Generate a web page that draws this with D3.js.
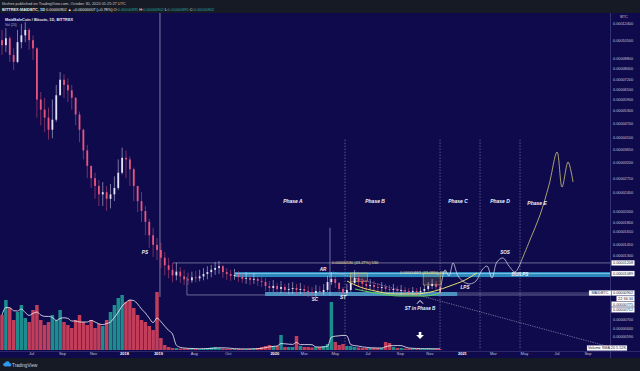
<!DOCTYPE html>
<html>
<head>
<meta charset="utf-8">
<script src="https://cdn.jsdelivr.net/npm/d3@7"></script>
<style>
html, body { margin: 0; padding: 0; background: #161a25; }
svg { display: block; font-family: "Liberation Sans", Arial, sans-serif; }
</style>
</head>
<body>
<div id="main"></div>
<script>
const ctx = {
    w: 640,
    h: 371,
    paneT: 13,
    paneR: 610,
    paneB: 351,
    footT: 358,
    volBase: 350,
    STEP: 0.25
};

// x axis in "month units" of the (gap-compressed) TradingView bar axis
const xTickLabels = ["Jul", "Sep", "Nov", "2018", "2019", "Aug", "Oct", "2020", "Mar", "May", "Jul", "Sep", "Nov", "2021", "Mar", "May", "Jul", "Sep"];
const xTickValues = [2, 4, 6, 8, 10.2, 12.5, 14.7, 17.7, 19.6, 21.6, 23.7, 25.8, 27.7, 29.8, 31.8, 33.8, 35.9, 37.9];
const yearLabels = ["2018", "2019", "2020", "2021"];

// price axis ticks, in satoshi (1e-8 BTC)
const yTickValues = [12400, 10500, 8800, 8000, 7200, 6500, 5900, 5300, 4700, 4100, 3650, 3200, 2750, 2400, 2000, 1800, 1650, 1450, 1300, 700, 640, 590];

// daily candles aggregated, prices in satoshi
const firstOpen = 10500;
const closes = [10000, 10700, 9100, 8500, 10300, 11000, 11600, 10500, 9700, 5900,
    5350, 4950, 4400, 4850, 6150, 7150, 6800, 6450, 6000, 5100,
    4400, 3600, 3100, 2750, 2550, 2350, 2400, 2250, 2350, 2500,
    2900, 3350, 3300, 3000, 2550, 2200, 2000, 1800, 1580, 1440,
    1370, 1270, 1180, 1130, 1070, 1110, 1060, 1030, 1020, 1050,
    1040, 1060, 1085, 1105, 1130, 1150, 1170, 1105, 1085, 1065,
    1075, 1055, 1035, 1045, 1025, 1035, 1015, 1005, 965, 947,
    966, 938, 956, 929, 938, 947, 929, 938, 920, 911,
    902, 920, 911, 929, 1003, 1033, 994, 938, 902, 929,
    994, 1043, 1013, 985, 966, 975, 956, 947, 956, 938,
    929, 938, 920, 929, 920, 911, 920, 911, 920, 938,
    966, 985, 956, 902];
const highs = [11600, 11800, 10900, 9700, 11600, 12300, 12500, 11800, 11000, 9800,
    6350, 6000, 5450, 5900, 6800, 7700, 7550, 7250, 6800, 6050,
    5250, 4450, 3800, 3100, 2900, 2700, 2650, 2550, 2600, 2800,
    3300, 3700, 3600, 3400, 3050, 2550, 2400, 2100, 1850, 1700,
    1540, 1470, 1340, 1270, 1210, 1210, 1160, 1130, 1100, 1110,
    1120, 1130, 1150, 1170, 1185, 1220, 1230, 1185, 1150, 1130,
    1140, 1115, 1095, 1105, 1085, 1095, 1075, 1065, 1045, 1013,
    1023, 994, 1013, 985, 994, 1003, 985, 994, 975, 966,
    956, 975, 966, 985, 1064, 1106, 1074, 1003, 956, 985,
    1053, 1128, 1085, 1043, 1023, 1033, 1013, 994, 1003, 985,
    975, 985, 966, 975, 956, 947, 956, 947, 956, 975,
    1003, 1033, 1013, 975];
const lows = [9100, 9350, 8500, 7850, 8400, 9700, 10300, 9550, 8650, 4950,
    4600, 4300, 4000, 4050, 4750, 6150, 6000, 5750, 5350, 4600,
    3900, 3300, 2750, 2500, 2250, 2100, 2100, 2000, 2050, 2200,
    2450, 2850, 2750, 2550, 2200, 1980, 1800, 1580, 1400, 1280,
    1240, 1150, 1070, 1040, 1000, 1020, 995, 975, 975, 995,
    1000, 1010, 1020, 1030, 1050, 1075, 1085, 1045, 1025, 1015,
    1025, 1005, 995, 985, 975, 985, 965, 955, 920, 902,
    911, 894, 902, 885, 894, 894, 885, 894, 876, 868,
    859, 868, 876, 885, 911, 975, 947, 894, 859, 876,
    911, 975, 956, 929, 920, 929, 911, 902, 911, 894,
    885, 894, 885, 885, 876, 876, 885, 876, 885, 902,
    920, 938, 920, 885];
const volumes = [35, 50, 42, 30, 38, 45, 32, 28, 40, 45,
    30, 25, 28, 35, 30, 40, 28, 25, 22, 30,
    35, 28, 25, 30, 22, 26, 24, 30, 38, 45,
    52, 55, 48, 50, 42, 35, 30, 28, 24, 20,
    58, 12, 5, 3, 2, 2, 1.5, 1.5, 1.2, 1.5,
    1.2, 1, 1.5, 2, 2.5, 3, 2, 1.5, 1.2, 1,
    1, 1.2, 1, 1, 1.2, 1.5, 2, 3, 4, 5,
    4, 4, 15, 3, 3, 3, 14, 4, 3, 3,
    2.5, 3, 3, 4, 6, 48, 8, 5, 6, 4,
    4, 3, 2.5, 2, 2, 2, 2, 2, 2, 8,
    7, 3, 2, 2, 1.5, 1.5, 1.5, 1.2, 1.2, 1.2,
    1.5, 1.2, 1, 1];

// drawn projection (Wyckoff schematic)
const projT = [28.39, 28.71, 28.97, 29.23, 29.55, 29.94, 30.32, 30.71, 31.10, 31.42, 31.74, 32.06, 32.45, 32.84, 33.23, 33.61];
const projS = [902, 1128, 1064, 1207, 1064, 1003, 985, 1013, 1128, 1172, 1043, 1219, 1267, 1172, 1106, 1219];
const markupT = [33.61, 34.19, 34.84, 35.42, 35.94, 36.26, 36.65, 36.97];
const markupS = [1219, 1509, 1923, 2574, 3545, 2524, 3217, 2650];
const saucerT = [22.39, 23.23, 24.19, 25.48, 26.77, 28.06, 29.03, 30.0, 30.77];
const saucerS = [1013, 956, 920, 894, 894, 920, 966, 1023, 1095];
const greenT = [22.9, 24.19, 25.81, 27.42, 28.39];
const greenS = [938, 902, 876, 876, 902];
const trendT = [21.48, 39.35];
const trendS = [1106, 534];
// small price-range boxes [t0, t1, top, bottom]
const rangeBoxes = [[22.6, 23.7, 1095, 1010], [27.3, 28.4, 1095, 975]];

const phaseLabels = ["Phase A", "Phase B", "Phase C", "Phase D", "Phase E"];
const phaseT = [18.9, 24.2, 29.55, 32.26, 34.65];
const phaseS = [2160, 2160, 2160, 2160, 2120];
const phaseLineT = [22.26, 28.39, 30.97, 33.55];

const eventLabels = ["PS", "AR", "SC", "ST", "LPS", "SOS", "BU/LPS", "ST in Phase B"];
const eventT = [9.35, 20.84, 20.32, 22.13, 30.0, 32.58, 33.55, 27.1];
const eventS = [1317, 1117, 837, 851, 938, 1317, 1064, 764];

const lastPrice = 902;
const resistance = 1208;
const arBand = [1053, 1106];
const arLevel = 1089;
const scBand = [876, 911];
const rangeLow = 885;

const fmt = (v) => (v * 1e-8).toFixed(8);

function createViz() {
    let svg = d3.select("#main").append("svg")
        .attr("width", ctx.w)
        .attr("height", ctx.h);
    svg.append("rect").attr("width", ctx.w).attr("height", ctx.h).attr("fill", "#161a25");
    svg.append("rect")
        .attr("x", 0).attr("y", ctx.paneT)
        .attr("width", ctx.w).attr("height", ctx.footT - ctx.paneT)
        .attr("fill", "#0e0a4c");

    let x = d3.scaleLinear().domain([0, 39.355]).range([0, ctx.paneR]);
    let y = d3.scaleLog().domain([600, 12000]).range([335, 26.4]);
    let vy = d3.scaleLinear().domain([0, 60]).range([ctx.volBase, 290]);

    svg.append("clipPath").attr("id", "paneClip")
        .append("rect").attr("x", 0).attr("y", ctx.paneT)
        .attr("width", ctx.paneR).attr("height", ctx.paneB - ctx.paneT);
    let pane = svg.append("g").attr("clip-path", "url(#paneClip)");

    // horizontal levels and boxes
    pane.append("rect")
        .attr("x", x(15.16)).attr("y", y(arBand[1]))
        .attr("width", x(39.355) - x(15.16)).attr("height", y(arBand[0]) - y(arBand[1]))
        .attr("fill", "#2f9fd0").attr("opacity", 0.85);
    pane.append("rect")
        .attr("x", x(17.1)).attr("y", y(scBand[1]))
        .attr("width", x(29.5) - x(17.1)).attr("height", y(scBand[0]) - y(scBand[1]))
        .attr("fill", "#2f9fd0").attr("opacity", 0.85);
    pane.append("line")
        .attr("x1", x(15.16)).attr("x2", ctx.paneR)
        .attr("y1", y(arLevel)).attr("y2", y(arLevel))
        .attr("stroke", "#bfe6ff").attr("stroke-width", 0.6);
    pane.append("line")
        .attr("x1", x(11.16)).attr("x2", ctx.paneR)
        .attr("y1", y(resistance)).attr("y2", y(resistance))
        .attr("stroke", "#a9a8c8").attr("stroke-width", 0.6);
    pane.append("path")
        .attr("d", `M${x(12.06)},${y(resistance) + 14}V${y(rangeLow)}H${ctx.paneR}`)
        .attr("fill", "none").attr("stroke", "#a9a8c8").attr("stroke-width", 0.6);
    pane.append("line")
        .attr("x1", x(17.1)).attr("x2", ctx.paneR)
        .attr("y1", y(lastPrice)).attr("y2", y(lastPrice))
        .attr("stroke", "#a9a8c8").attr("stroke-width", 0.5);

    // 2019 marker and phase separators
    pane.append("line")
        .attr("x1", x(10.32)).attr("x2", x(10.32))
        .attr("y1", ctx.paneT).attr("y2", y(868))
        .attr("stroke", "#c9c8e4").attr("stroke-width", 0.6);
    pane.selectAll("line.phase")
        .data(phaseLineT)
        .enter().append("line")
        .attr("class", "phase")
        .attr("x1", (d) => x(d)).attr("x2", (d) => x(d))
        .attr("y1", y(4000)).attr("y2", ctx.volBase)
        .attr("stroke", "#8d8bbd").attr("stroke-width", 0.6)
        .attr("stroke-dasharray", "1.5,1.5");

    // measure tool
    pane.append("line")
        .attr("x1", x(21.29)).attr("x2", x(21.29))
        .attr("y1", y(1700)).attr("y2", y(880))
        .attr("stroke", "#b8b7d8").attr("stroke-width", 0.6);
    pane.append("text")
        .attr("x", x(21.42)).attr("y", y(1190))
        .attr("font-size", 4).attr("fill", "#f2e6a0")
        .text("0.00000530 (43.27%) 530");
    pane.append("text")
        .attr("x", x(25.8)).attr("y", y(1082))
        .attr("font-size", 4).attr("fill", "#f2e6a0")
        .text("0.00000463 (43.09%) 463");
    pane.selectAll("rect.range")
        .data(rangeBoxes)
        .enter().append("rect")
        .attr("class", "range")
        .attr("x", (d) => x(d[0])).attr("width", (d) => x(d[1]) - x(d[0]))
        .attr("y", (d) => y(d[2])).attr("height", (d) => y(d[3]) - y(d[2]))
        .attr("fill", "#e8c24a").attr("fill-opacity", 0.15)
        .attr("stroke", "#e8c24a").attr("stroke-width", 0.5);

    // dotted trend line
    pane.append("line")
        .attr("x1", x(trendT[0])).attr("y1", y(trendS[0]))
        .attr("x2", x(trendT[1])).attr("y2", y(trendS[1]))
        .attr("stroke", "#b9b8d8").attr("stroke-width", 0.6)
        .attr("stroke-dasharray", "1.2,1.2");

    // volume
    let candles = closes.map((c, i) => ({
        t: 0.13 + i * ctx.STEP,
        o: i === 0 ? firstOpen : closes[i - 1],
        c: c, h: highs[i], l: lows[i], v: volumes[i]
    }));
    let bw = x(ctx.STEP) - x(0);
    pane.selectAll("rect.vol")
        .data(candles)
        .enter().append("rect")
        .attr("class", "vol")
        .attr("x", (d) => x(d.t) - bw * 0.45)
        .attr("width", bw * 0.9)
        .attr("y", (d) => vy(d.v))
        .attr("height", (d) => ctx.volBase - vy(d.v))
        .attr("fill", (d) => d.c >= d.o ? "#1fa39a" : "#e2475c")
        .attr("opacity", 0.85);
    let ma = candles.map((d, i) => ({ t: d.t, v: d3.mean(candles.slice(Math.max(0, i - 4), i + 1), (p) => p.v) }));
    pane.append("path")
        .datum(ma)
        .attr("d", d3.line().x((d) => x(d.t)).y((d) => vy(d.v)).curve(d3.curveMonotoneX))
        .attr("fill", "none").attr("stroke", "#f4f4f8").attr("stroke-width", 0.8);

    // candles
    let cg = pane.selectAll("g.candle")
        .data(candles)
        .enter().append("g")
        .attr("class", "candle");
    let col = (d) => d.c >= d.o ? "#e4e1f6" : "#e8557e";
    cg.append("line")
        .attr("x1", (d) => x(d.t)).attr("x2", (d) => x(d.t))
        .attr("y1", (d) => y(d.h)).attr("y2", (d) => y(d.l))
        .attr("stroke", col).attr("stroke-width", 0.5);
    cg.append("rect")
        .attr("x", (d) => x(d.t) - 0.9)
        .attr("width", 1.8)
        .attr("y", (d) => y(Math.max(d.o, d.c)))
        .attr("height", (d) => Math.max(0.8, Math.abs(y(d.o) - y(d.c))))
        .attr("fill", col);

    // schematic curves
    let line = d3.line().x((d) => x(d[0])).y((d) => y(d[1])).curve(d3.curveMonotoneX);
    pane.append("path")
        .datum(greenT.map((t, i) => [t, greenS[i]]))
        .attr("d", line).attr("fill", "none")
        .attr("stroke", "#5fd35a").attr("stroke-width", 1);
    pane.append("path")
        .datum(saucerT.map((t, i) => [t, saucerS[i]]))
        .attr("d", line).attr("fill", "none")
        .attr("stroke", "#e8e070").attr("stroke-width", 1);
    let pline = d3.line().x((d) => x(d[0])).y((d) => y(d[1])).curve(d3.curveCatmullRom);
    pane.append("path")
        .datum(projT.map((t, i) => [t, projS[i]]))
        .attr("d", pline).attr("fill", "none")
        .attr("stroke", "#e8e7f2").attr("stroke-width", 0.7);
    pane.append("path")
        .datum(markupT.map((t, i) => [t, markupS[i]]))
        .attr("d", pline).attr("fill", "none")
        .attr("stroke", "#cfc77c").attr("stroke-width", 0.8);

    // labels
    pane.selectAll("text.phase")
        .data(phaseLabels)
        .enter().append("text")
        .attr("class", "phase")
        .attr("x", (d, i) => x(phaseT[i])).attr("y", (d, i) => y(phaseS[i]))
        .attr("text-anchor", "middle")
        .attr("font-size", 5).attr("font-weight", "bold").attr("font-style", "italic")
        .attr("fill", "#f2f2fa")
        .text((d) => d);
    pane.selectAll("text.event")
        .data(eventLabels)
        .enter().append("text")
        .attr("class", "event")
        .attr("x", (d, i) => x(eventT[i])).attr("y", (d, i) => y(eventS[i]))
        .attr("text-anchor", "middle")
        .attr("font-size", 4.6).attr("font-weight", "bold").attr("font-style", "italic")
        .attr("fill", "#f2f2fa")
        .text((d) => d);
    let cx = x(27.1);
    pane.append("path")
        .attr("d", `M${cx - 3},${y(826) + 1.6}L${cx},${y(826) - 1.6}L${cx + 3},${y(826) + 1.6}`)
        .attr("fill", "none").attr("stroke", "#ffffff").attr("stroke-width", 1);
    let ay = y(589);
    pane.append("path")
        .attr("d", `M${cx - 1.3},${ay - 5}h2.6v3h2.6l-3.9,4.2l-3.9,-4.2h2.6z`)
        .attr("fill", "#ffffff");

    // separators
    svg.append("line")
        .attr("x1", ctx.paneR + 0.5).attr("x2", ctx.paneR + 0.5)
        .attr("y1", ctx.paneT).attr("y2", ctx.footT)
        .attr("stroke", "#3f3d82").attr("stroke-width", 0.8);
    svg.append("line")
        .attr("x1", 0).attr("x2", ctx.w)
        .attr("y1", ctx.paneB + 0.5).attr("y2", ctx.paneB + 0.5)
        .attr("stroke", "#3f3d82").attr("stroke-width", 0.6);

    // x axis
    let xAxis = d3.axisBottom(x)
        .tickValues(xTickValues)
        .tickFormat((d, i) => xTickLabels[i])
        .tickSize(0).tickPadding(1.2);
    let xg = svg.append("g").attr("transform", `translate(0,${ctx.paneB})`).call(xAxis);
    xg.select(".domain").remove();
    xg.selectAll("text")
        .attr("font-size", 4).attr("font-family", "Liberation Sans, Arial, sans-serif")
        .attr("fill", (d, i) => yearLabels.includes(xTickLabels[i]) ? "#ffffff" : "#c3c2dc")
        .attr("font-weight", (d, i) => yearLabels.includes(xTickLabels[i]) ? "bold" : "normal");

    // y axis
    let yAxis = d3.axisRight(y)
        .tickValues(yTickValues)
        .tickFormat(fmt)
        .tickSize(0).tickPadding(0);
    let yg = svg.append("g").attr("transform", `translate(${ctx.paneR + 3},0)`).call(yAxis);
    yg.select(".domain").remove();
    yg.selectAll("text")
        .attr("font-size", 3.8).attr("font-family", "Liberation Sans, Arial, sans-serif")
        .attr("fill", "#c3c2dc");
    svg.append("text")
        .attr("x", 624).attr("y", 18)
        .attr("text-anchor", "middle")
        .attr("font-size", 3.8).attr("fill", "#c3c2dc")
        .text("BTC");

    // price boxes on the axis (stacked like TradingView)
    function box(bx, by, w, text, fill, color) {
        svg.append("rect")
            .attr("x", bx).attr("y", by - 2.6)
            .attr("width", w).attr("height", 5.2)
            .attr("fill", fill).attr("stroke", "#8a8ab0").attr("stroke-width", 0.3);
        svg.append("text")
            .attr("x", bx + w / 2).attr("y", by + 1.4)
            .attr("text-anchor", "middle")
            .attr("font-size", 3.8).attr("fill", color)
            .text(text);
    }
    box(611.5, y(resistance), 23, fmt(resistance), "#ffffff", "#1b1b3a");
    box(611.5, y(arLevel), 23, fmt(arLevel), "#ffffff", "#1b1b3a");
    let py = y(lastPrice);
    box(589, py, 22, "MAIDBTC", "#ffffff", "#1b1b3a");
    box(611.5, py, 23, fmt(lastPrice), "#ffffff", "#1b1b3a");
    box(616.5, py + 5.6, 18, "22:34:34", "#ffffff", "#1b1b3a");
    box(611.5, py + 11.2, 23, fmt(775), "#ffffff", "#1b1b3a");
    box(611.5, py + 16.8, 23, fmt(712), "#ffffff", "#1b1b3a");
    box(587, 348, 40, "Volume SMA 20   5.52K", "#ffffff", "#1b1b3a");

    // header
    svg.append("text")
        .attr("x", 2).attr("y", 5.2)
        .attr("font-size", 3.9).attr("fill", "#c8cad4")
        .text("fiksfree published on TradingView.com, October 30, 2020 01:25:27 UTC");
    let h2 = svg.append("text").attr("x", 2).attr("y", 10.8).attr("font-size", 3.9).attr("fill", "#e6e7ee");
    h2.append("tspan").attr("font-weight", "bold").text("BITTREX:MAIDBTC, 1D ");
    h2.append("tspan").text("0.00000902 \u25B2 +0.00000007 (+0.78%) O:");
    h2.append("tspan").attr("fill", "#26a69a").text("0.00000895");
    h2.append("tspan").text(" H:");
    h2.append("tspan").attr("fill", "#26a69a").text("0.00000902");
    h2.append("tspan").text(" L:");
    h2.append("tspan").attr("fill", "#26a69a").text("0.00000895");
    h2.append("tspan").text(" C:");
    h2.append("tspan").attr("fill", "#26a69a").text("0.00000902");

    svg.append("text")
        .attr("x", 5).attr("y", 21)
        .attr("font-size", 3.9).attr("font-weight", "bold").attr("fill", "#e6e7ee")
        .text("MaidSafeCoin / Bitcoin, 1D, BITTREX");
    svg.append("text")
        .attr("x", 5).attr("y", 26)
        .attr("font-size", 3.4).attr("fill", "#b5b4d0")
        .text("Vol (20)");

    // footer logo
    let logo = svg.append("g").attr("transform", "translate(3,362)");
    logo.append("circle").attr("cx", 2).attr("cy", 2.6).attr("r", 1.8).attr("fill", "#2e9bf0");
    logo.append("circle").attr("cx", 4.4).attr("cy", 1.7).attr("r", 2.4).attr("fill", "#2e9bf0");
    logo.append("circle").attr("cx", 6.8).attr("cy", 2.8).attr("r", 1.6).attr("fill", "#2e9bf0");
    logo.append("rect").attr("x", 2).attr("y", 2.6).attr("width", 4.8).attr("height", 1.8).attr("fill", "#2e9bf0");
    svg.append("text")
        .attr("x", 12).attr("y", 366.5)
        .attr("font-size", 4.6).attr("fill", "#d1d4dc")
        .text("TradingView");
}

createViz();
</script>
</body>
</html>
